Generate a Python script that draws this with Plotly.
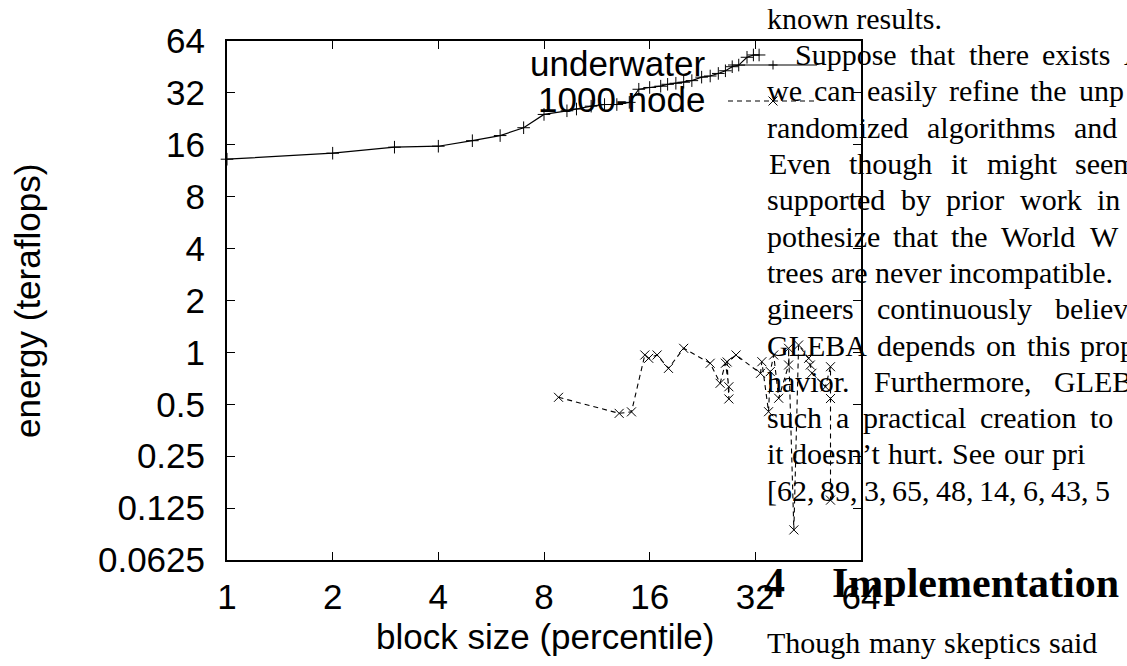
import plotly.graph_objects as go

# ---------------- data ----------------
underwater_x = [1, 2, 3, 4, 5, 6, 7, 8, 9.3, 9.9, 10.9, 11.9, 12.9, 14.0, 14.9, 16.0, 17.2,
                18.0, 19.0, 20.0, 21.1, 22.5, 23.8, 25.1, 26.3, 27.5, 28.7, 30.3, 31.6, 32.8]
underwater_y = [13.2, 14.3, 15.5, 15.7, 16.9, 18.1, 20.1, 24.0, 25.2, 25.8, 26.8, 27.4, 27.4, 28.2,
                33.6, 34.4, 35.0, 35.9, 36.4, 36.9, 37.7, 39.5, 40.1, 41.5, 43.0, 45.4, 46.4,
                51.5, 53.1, 53.1]

node_x = [8.8, 13.1, 14.2, 15.5, 15.9, 16.8, 18.1, 20.0, 23.8, 25.4, 26.3, 26.9, 26.9, 26.6, 28.2,
          33.1, 33.4, 34.9, 35.3, 36.1, 37.3, 39.8, 39.8, 41.2, 42.5, 45.4, 45.9, 46.4, 50.7,
          52.4, 52.4, 52.4]
node_y = [0.549, 0.443, 0.452, 0.966, 0.924, 0.966, 0.808, 1.056, 0.865, 0.662, 0.865, 0.632, 0.537,
          0.88, 0.966, 0.756, 0.883, 0.453, 0.774, 0.966, 0.542, 0.845, 1.056, 0.0934, 1.104,
          0.924, 0.845, 0.757, 0.632, 0.826, 0.54, 0.139]

x_ticks = [1, 2, 4, 8, 16, 32, 64]
x_tick_text = ["1", "2", "4", "8", "16", "32", "64"]
y_ticks = [0.0625, 0.125, 0.25, 0.5, 1, 2, 4, 8, 16, 32, 64]
y_tick_text = ["0.0625", "0.125", "0.25", "0.5", "1", "2", "4", "8", "16", "32", "64"]

series_names = ["underwater", "1000-node"]
x_title = "block size (percentile)"
y_title = "energy (teraflops)"

# surrounding page text (justified lines, one list of words per line)
page_lines = [
    ["known", "results."],
    ["Suppose", "that", "there", "exists", "A"],
    ["we", "can", "easily", "refine", "the", "unp"],
    ["randomized", "algorithms", "and"],
    ["Even", "though", "it", "might", "seem"],
    ["supported", "by", "prior", "work", "in"],
    ["pothesize", "that", "the", "World", "W"],
    ["trees", "are", "never", "incompatible."],
    ["gineers", "continuously", "believe"],
    ["GLEBA", "depends", "on", "this", "prop"],
    ["havior.", "Furthermore,", "GLEB"],
    ["such", "a", "practical", "creation", "to"],
    ["it", "doesn\u2019t", "hurt.", "See", "our", "pri"],
    ["[62,", "89,", "3,", "65,", "48,", "14,", "6,", "43,", "5"],
]
section_number = "4"
section_title = "Implementation"
after_section = ["Though", "many", "skeptics", "said"]

# ---------------- layout (pixel positions) ----------------
W, H = 1127, 666
L, R, T, B = 227, 861, 41, 560

# (first word x, last word x) for each line; None = natural spacing
line_span = [None, (793, 1121.7), (765, 1076.7), (765, 1071.7), (766.7, 1073.3), (765, 1095),
             (765, 1088.3), (765, 946.7), (765, 1053.3), (765, 1078.3), (765, 1051.7),
             (765, 1088.3), (765, 1050), (765, 1076.7)]
after_span = (765, 1046.7)

# Times-compatible advance widths (per 1000 em) used to justify the lines
ADV = dict(a=444, b=500, c=444, d=500, e=444, f=333, g=500, h=500, i=278, j=278, k=500, l=278,
           m=778, n=500, o=500, p=500, q=500, r=333, s=389, t=278, u=500, v=500, w=722, x=500,
           y=500, z=444, A=722, B=667, C=667, D=722, E=611, F=556, G=722, H=722, I=333, L=611,
           S=556, T=611, W=944)
ADV.update({str(d): 500 for d in range(10)})
ADV.update({",": 250, ".": 250, "[": 333, "\u2019": 333, " ": 250})


def text_w(s, size):
    return sum(ADV.get(ch, 500) for ch in s) * size / 1000.0


def px(x):
    return (x - L) / (R - L)


def py(y):
    return (B - y) / (B - T)


SANS = "Liberation Sans"
SERIF = "Liberation Serif"
sans_size = 35
serif_size = 30
head_size = 42

fig = go.Figure()

fig.add_trace(go.Scatter(
    x=underwater_x, y=underwater_y, mode="lines+markers", name=series_names[0],
    line=dict(color="black", width=1.2),
    marker=dict(symbol="cross-thin-open", size=9, line=dict(color="black", width=1)),
    cliponaxis=False, showlegend=False))

fig.add_trace(go.Scatter(
    x=node_x, y=node_y, mode="lines+markers", name=series_names[1],
    line=dict(color="black", width=1.1, dash="5px,4px"),
    marker=dict(symbol="x-thin-open", size=9, line=dict(color="black", width=1)),
    cliponaxis=False, showlegend=False))

annotations = []
shapes = []

# legend (gnuplot style: text right-aligned, then sample)
legend_rows = [(series_names[0], 65, "solid", "plus"), (series_names[1], 101, "5px,4px", "x")]
for name, yc, dash, mk in legend_rows:
    annotations.append(dict(text=name, x=px(707), y=py(yc - 2), xref="paper", yref="paper",
                            xanchor="right", yanchor="middle", showarrow=False,
                            font=dict(family=SANS, size=sans_size, color="black")))
    shapes.append(dict(type="line", xref="paper", yref="paper", x0=px(728), x1=px(817),
                       y0=py(yc), y1=py(yc), line=dict(color="black", width=1.2, dash=dash)))
    cx, cy, s = 773, yc, 4.5
    if mk == "plus":
        path = (f"M {px(cx - s)},{py(cy)} L {px(cx + s)},{py(cy)} "
                f"M {px(cx)},{py(cy - s)} L {px(cx)},{py(cy + s)}")
    else:
        path = (f"M {px(cx - s)},{py(cy - s)} L {px(cx + s)},{py(cy + s)} "
                f"M {px(cx - s)},{py(cy + s)} L {px(cx + s)},{py(cy - s)}")
    shapes.append(dict(type="path", xref="paper", yref="paper", path=path,
                       line=dict(color="black", width=1)))

# axis titles
annotations.append(dict(text=x_title, x=px(545), y=py(636), xref="paper", yref="paper",
                        xanchor="center", yanchor="middle", showarrow=False,
                        font=dict(family=SANS, size=sans_size, color="black")))
annotations.append(dict(text=y_title, x=px(27), y=py(301), xref="paper", yref="paper",
                        xanchor="center", yanchor="middle", showarrow=False, textangle=-90,
                        font=dict(family=SANS, size=sans_size, color="black")))


def place(text, x0, baseline, size, bold=False):
    off = 0.3375 * size
    annotations.append(dict(text=("<b>%s</b>" % text) if bold else text, x=px(x0),
                            y=py(baseline - off), xref="paper", yref="paper",
                            xanchor="left", yanchor="middle", showarrow=False,
                            font=dict(family=SERIF, size=size, color="black")))


def justify(words, span, baseline, size):
    x0, xlast = span
    widths = [text_w(w, size) for w in words]
    n = len(words)
    gap = max((xlast - x0 - sum(widths[:-1])) / (n - 1), 0.2 * size)
    x = x0
    for w, wd in zip(words, widths):
        place(w, x, baseline, size)
        x += wd + gap


first_baseline = 28.5
lead = 36.3
for i, words in enumerate(page_lines):
    base = first_baseline + i * lead
    if line_span[i] is None:
        place(" ".join(words), 765, base, serif_size)
    else:
        justify(words, line_span[i], base, serif_size)

place(section_number, 762, 597, head_size, bold=True)
place(section_title, 830, 597, head_size, bold=True)
justify(after_section, after_span, 653, serif_size)

axis_common = dict(showline=True, linecolor="black", linewidth=2, mirror="ticks",
                   ticks="inside", ticklen=8, tickwidth=1.3, tickcolor="black",
                   showgrid=False, zeroline=False,
                   tickfont=dict(family=SANS, size=sans_size, color="black"))

fig.update_layout(
    width=W, height=H,
    margin=dict(l=L, r=W - R, t=T, b=H - B, pad=0),
    paper_bgcolor="white", plot_bgcolor="white",
    xaxis=dict(type="log", range=[0, 1.80618], tickvals=x_ticks, ticktext=x_tick_text,
               ticklabelstandoff=5, **axis_common),
    yaxis=dict(type="log", range=[-1.20412, 1.80618], tickvals=y_ticks, ticktext=y_tick_text,
               ticklabelstandoff=13, **axis_common),
    annotations=annotations,
    shapes=shapes,
    showlegend=False,
)

fig.write_html("out.html")
